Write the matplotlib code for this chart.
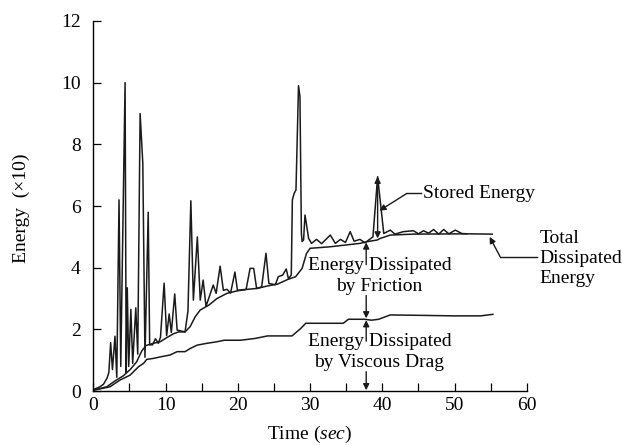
import matplotlib
matplotlib.use('Agg')
import matplotlib.pyplot as plt
from matplotlib.ticker import MultipleLocator

plt.rcParams['font.family'] = ['Liberation Serif', 'DejaVu Serif']
plt.rcParams['mathtext.fontset'] = 'custom'
plt.rcParams['mathtext.rm'] = 'Liberation Serif'
plt.rcParams['mathtext.it'] = 'Liberation Serif:italic'

# total energy (stored + dissipated), spiky trace
t_total = [0, 0.9, 1.4, 1.9, 2.15, 2.4, 2.65, 3.0, 3.25, 3.56, 3.8, 4.17, 4.4, 4.55, 4.7,
           4.9, 5.2, 5.45, 5.88, 6.15, 6.48, 6.85, 7.15, 7.6, 7.8, 8.2, 8.6, 9.0, 9.3, 9.8,
           10.15, 10.5, 10.8, 11.27, 11.6, 12.7, 13.1, 13.5, 13.85, 14.4, 14.8, 15.2, 15.6,
           16.6, 17.0, 17.55, 18.0, 18.5, 19.0, 19.6, 19.95, 21.15, 21.7, 22.2, 22.6, 23.3,
           23.9, 24.3, 25.2, 25.6, 26.2, 26.7, 27.0, 27.4, 27.55, 27.8, 28.05, 28.4, 28.6,
           28.8, 28.9, 29.1, 29.3, 29.8, 30.2, 30.9, 31.6, 32.8, 33.5, 34.2, 34.9, 35.55,
           36.1, 36.9, 37.6, 38.7, 39.35, 40.2, 41.1, 41.75, 42.9, 44.3, 45.0, 45.7, 46.4,
           47.1, 47.8, 48.5, 49.2, 50.1, 51.0, 51.7]
e_total = [0.05, 0.14, 0.22, 0.42, 0.6, 1.57, 0.7, 1.78, 0.45, 6.2, 0.8, 6.5, 10.0, 0.6, 3.35,
           0.8, 2.65, 0.9, 2.7, 1.2, 9.0, 7.4, 1.1, 5.8, 1.5, 1.5, 1.7, 1.55, 1.75, 3.5,
           1.8, 2.5, 1.9, 3.15, 1.98, 1.92, 2.6, 6.17, 2.95, 5.0, 2.95, 3.6, 2.75,
           3.44, 3.17, 4.05, 3.27, 3.3, 3.18, 3.86, 3.27, 3.3, 3.98, 3.98, 3.33, 3.38,
           4.47, 3.49, 3.45, 3.71, 3.76, 3.96, 3.65, 3.76, 6.2, 6.41, 6.52, 9.9, 9.55,
           5.1, 4.85, 4.9, 5.71, 4.95, 4.79, 4.92, 4.78, 5.06, 4.79, 4.92, 4.82, 5.17,
           4.86, 4.92, 4.81, 5.0, 6.95, 5.11, 5.22, 5.09, 5.17, 5.2, 5.1, 5.2, 5.12,
           5.24, 5.09, 5.24, 5.1, 5.22, 5.11, 5.1]

# total dissipated energy
t_diss = [0, 1.85, 3.0, 4.17, 5.1, 6.0, 6.7, 7.3, 8.3, 9.25, 10.2, 11.1, 11.8, 12.7, 13.4,
          14.1, 14.8, 16.0, 17.1, 18.5, 19.9, 21.3, 22.7, 24.1, 25.5, 26.9, 28.0, 28.9,
          29.5, 30.0, 32.8, 36.9, 38.0, 39.3, 39.7, 41.1, 44.3, 51.7, 55.2]
e_diss = [0.03, 0.14, 0.33, 0.5, 0.7, 0.95, 1.3, 1.48, 1.55, 1.6, 1.74, 1.86, 1.92, 1.92, 2.09,
          2.41, 2.63, 2.79, 3.0, 3.17, 3.25, 3.3, 3.33, 3.41, 3.47, 3.62, 3.71, 3.98,
          4.46, 4.63, 4.68, 4.79, 4.85, 4.9, 4.95, 5.06, 5.09, 5.1, 5.09]

# energy dissipated by viscous drag
t_visc = [0, 2.3, 3.7, 5.1, 6.25, 6.95, 7.4, 8.3, 9.26, 10.6, 11.6, 12.7, 13.4, 14.35, 15.7,
          17.1, 18.1, 20.4, 22.45, 24.1, 27.5, 28.7, 29.4, 34.6, 35.3, 37.5, 38.5, 39.5,
          41.1, 44.4, 50.0, 53.6, 55.3]
e_visc = [0.03, 0.14, 0.36, 0.52, 0.79, 0.9, 1.03, 1.06, 1.11, 1.17, 1.28, 1.28, 1.38, 1.49, 1.55,
          1.6, 1.65, 1.65, 1.71, 1.79, 1.79, 2.03, 2.2, 2.2, 2.33, 2.33, 2.3, 2.33,
          2.47, 2.46, 2.44, 2.44, 2.49]

fig = plt.figure(figsize=(6.22, 4.46), dpi=100)
ax = fig.add_axes([0.150, 0.123, 0.697, 0.830])

lc = '#1a1a1a'
for t, e in [(t_total, e_total), (t_diss, e_diss), (t_visc, e_visc)]:
    ax.plot(t, e, color=lc, lw=1.1)

ax.set_xlim(0, 60)
ax.set_ylim(0, 12)
ax.xaxis.set_major_locator(MultipleLocator(10))
ax.xaxis.set_minor_locator(MultipleLocator(5))
ax.yaxis.set_major_locator(MultipleLocator(2))
for s in ('top', 'right'):
    ax.spines[s].set_visible(False)
for s in ('left', 'bottom'):
    ax.spines[s].set_linewidth(1.0)
ax.tick_params(axis='both', which='both', direction='in', length=5.5, width=0.9,
               labelsize=14)
ax.tick_params(axis='x', which='major', pad=4)
ax.tick_params(axis='y', which='major', pad=9)

ax.set_xlabel('Time ($\\mathit{sec}$)', fontsize=14, va='center')
ax.xaxis.set_label_coords(0.5, -0.118)
ax.set_ylabel('Energy  (\u00d710)', fontsize=14, va='center')
ax.yaxis.set_label_coords(-0.165, 0.495)

ah = dict(arrowstyle='-|>', color=lc, lw=1.0, mutation_scale=9, shrinkA=0, shrinkB=0)

# stored energy
ax.annotate('', xy=(39.35, 6.95), xytext=(39.35, 4.95),
            arrowprops=dict(ah, arrowstyle='<|-|>'))
ax.text(45.6, 6.41, 'Stored Energy', fontsize=14, ha='left', va='center')
ax.plot([43.4, 45.4], [6.41, 6.41], color=lc, lw=1.0)
ax.annotate('', xy=(39.6, 5.85), xytext=(43.4, 6.41), arrowprops=ah)

# total dissipated energy
ax.text(61.8, 4.3, 'Total\nDissipated\nEnergy', fontsize=14, ha='left', va='center',
        linespacing=1.25, clip_on=False)
ax.plot([56.3, 61.4], [4.36, 4.36], color=lc, lw=1.0, clip_on=False)
ax.annotate('', xy=(54.85, 5.0), xytext=(56.3, 4.36), arrowprops=ah)

# friction and viscous drag bands
ax.text(39.6, 3.73, 'Energy Dissipated\nby Friction', fontsize=14, ha='center',
        va='center', linespacing=1.25)
ax.text(39.6, 1.27, 'Energy Dissipated\nby Viscous Drag', fontsize=14, ha='center',
        va='center', linespacing=1.25)
xa = 37.77
ax.annotate('', xy=(xa, 4.82), xytext=(xa, 4.1), arrowprops=ah)
ax.annotate('', xy=(xa, 2.36), xytext=(xa, 3.1), arrowprops=ah)
ax.annotate('', xy=(xa, 2.3), xytext=(xa, 1.62), arrowprops=ah)
ax.annotate('', xy=(xa, 0.03), xytext=(xa, 0.63), arrowprops=ah)

fig.savefig('out.png', dpi=100)
